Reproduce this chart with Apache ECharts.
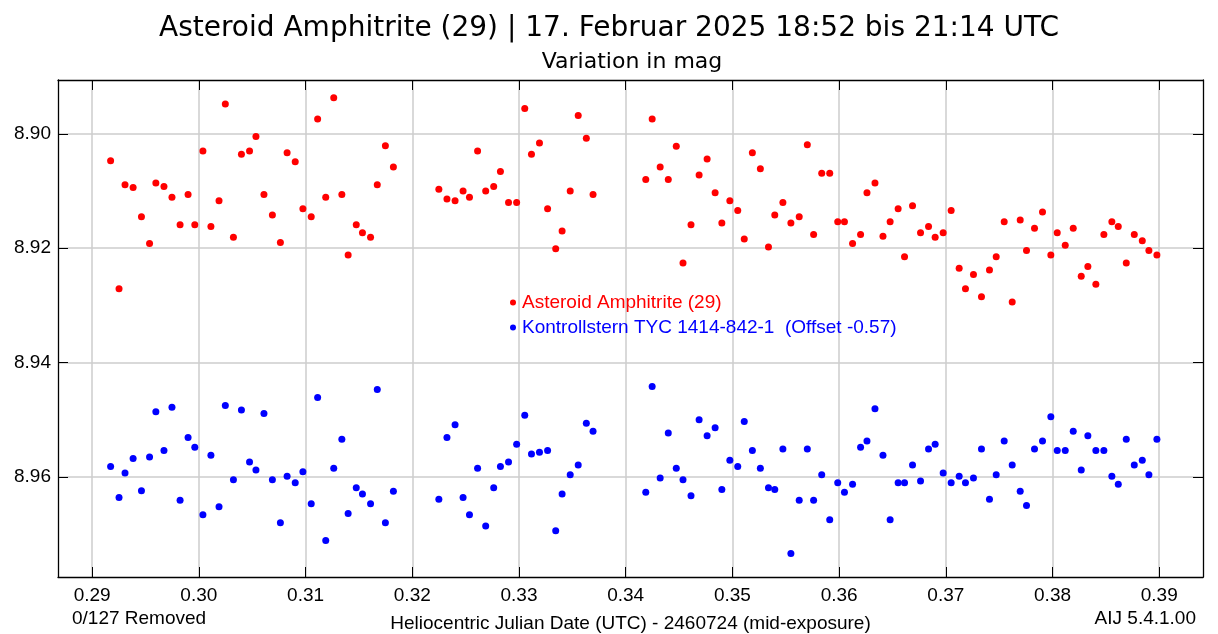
<!DOCTYPE html>
<html>
<head>
<meta charset="utf-8">
<script src="https://cdn.jsdelivr.net/npm/echarts@6/dist/echarts.min.js"></script>
<style>
html,body{margin:0;padding:0;background:#fff;}
#c{width:1218px;height:634px;}
</style>
</head>
<body>
<div id="c"></div>
<script>
// Heliocentric Julian Date (UTC) - 2460724
const hjd = [
 0.29173,0.29252,0.29308,0.29384,0.29462,0.29538,0.29597,0.29673,0.29748,0.29824,0.29899,0.29962,
 0.30038,0.30113,0.30189,0.30248,0.30324,0.30399,0.30475,0.30535,0.30610,0.30689,0.30764,0.30827,
 0.30903,0.30975,0.31053,0.31113,0.31189,0.31264,0.31340,0.31399,0.31475,
 0.31533,0.31609,0.31672,0.31748,0.31823,0.32249,0.32325,0.32401,0.32476,0.32536,0.32612,0.32688,
 0.32763,0.32826,0.32902,0.32978,0.33054,0.33117,0.33192,0.33268,0.33344,0.33404,0.33480,0.33555,
 0.33631,0.33694,
 0.34188,0.34248,0.34323,0.34399,0.34474,0.34537,0.34612,0.34688,0.34763,0.34838,0.34901,0.34976,
 0.35050,0.35111,0.35187,0.35262,0.35338,0.35397,0.35473,0.35548,0.35626,0.35702,0.35761,0.35837,
 0.35912,0.35987,0.36050,0.36126,0.36201,0.36261,0.36336,0.36411,
 0.36478,0.36553,0.36613,0.36688,0.36763,0.36838,0.36900,0.36975,0.37050,0.37125,0.37184,0.37259,
 0.37334,0.37409,0.37472,0.37547,0.37622,0.37697,0.37756,0.37831,0.37906,0.37984,0.38044,0.38119,
 0.38194,0.38269,0.38331,0.38406,0.38481,0.38556,0.38616,0.38691,0.38766,0.38841,0.38903,0.38978
];
// Asteroid Amphitrite (29), mag
const amphitrite = [
 8.9047,8.9271,8.9089,8.9094,8.9145,8.9192,8.9086,8.9092,8.9111,8.9159,8.9106,8.9159,
 8.9030,8.9162,8.9117,8.8948,8.9181,8.9036,8.9030,8.9005,8.9106,8.9142,8.9190,8.9033,
 8.9049,8.9131,8.9145,8.8974,8.9111,8.8937,8.9106,8.9212,8.9159,
 8.9173,8.9181,8.9089,8.9021,8.9058,8.9097,8.9114,8.9117,8.9100,8.9111,8.9030,8.9100,
 8.9092,8.9066,8.9120,8.9120,8.8956,8.9036,8.9016,8.9131,8.9201,8.9170,8.9100,8.8968,
 8.9008,8.9106,
 8.9080,8.8974,8.9058,8.9080,8.9022,8.9226,8.9159,8.9072,8.9044,8.9103,8.9156,8.9117,
 8.9134,8.9184,8.9033,8.9061,8.9198,8.9142,8.9120,8.9156,8.9145,8.9019,8.9176,8.9069,
 8.9069,8.9154,8.9154,8.9192,8.9176,8.9103,8.9086,8.9179,
 8.9154,8.9131,8.9215,8.9126,8.9173,8.9162,8.9181,8.9173,8.9134,8.9235,8.9271,8.9246,
 8.9285,8.9238,8.9215,8.9154,8.9294,8.9151,8.9204,8.9165,8.9137,8.9212,8.9173,8.9195,
 8.9165,8.9249,8.9232,8.9263,8.9176,8.9154,8.9162,8.9226,8.9176,8.9187,8.9204,8.9212
];
// Kontrollstern TYC 1414-842-1 (Offset -0.57), mag
const kontrollstern = [
 8.9582,8.9636,8.9593,8.9568,8.9624,8.9565,8.9486,8.9554,8.9478,8.9641,8.9531,8.9548,
 8.9666,8.9562,8.9652,8.9475,8.9605,8.9483,8.9574,8.9588,8.9489,8.9605,8.9680,8.9599,
 8.9610,8.9591,8.9647,8.9461,8.9711,8.9585,8.9534,8.9664,8.9619,
 8.9630,8.9647,8.9447,8.9680,8.9625,8.9639,8.9531,8.9509,8.9636,8.9666,8.9585,8.9686,
 8.9619,8.9582,8.9574,8.9543,8.9492,8.9560,8.9557,8.9554,8.9694,8.9630,8.9596,8.9579,
 8.9506,8.9520,
 8.9627,8.9442,8.9602,8.9523,8.9585,8.9605,8.9633,8.9500,8.9528,8.9514,8.9622,8.9571,
 8.9582,8.9503,8.9554,8.9585,8.9619,8.9622,8.9551,8.9734,8.9641,8.9551,8.9641,8.9596,
 8.9675,8.9610,8.9627,8.9613,8.9548,8.9537,8.9481,8.9562,
 8.9675,8.9610,8.9610,8.9579,8.9607,8.9551,8.9543,8.9593,8.9610,8.9599,8.9610,8.9602,
 8.9551,8.9639,8.9596,8.9537,8.9579,8.9625,8.9650,8.9551,8.9537,8.9495,8.9554,8.9554,
 8.9520,8.9588,8.9528,8.9554,8.9554,8.9599,8.9613,8.9534,8.9579,8.9571,8.9596,8.9534
];
const xTicks = [0.29,0.30,0.31,0.32,0.33,0.34,0.35,0.36,0.37,0.38,0.39];
const yTicks = [8.90,8.92,8.94,8.96];
const seriesNames = ['Asteroid Amphitrite (29)', 'Kontrollstern TYC 1414-842-1  (Offset -0.57)'];
const titleText = 'Asteroid Amphitrite (29) | 17. Februar 2025 18:52 bis 21:14 UTC';
const subtitleText = 'Variation in mag';
const xName = 'Heliocentric Julian Date (UTC) - 2460724 (mid-exposure)';
const removedText = '0/127 Removed';
const versionText = 'AIJ 5.4.1.00';

const X_MIN = 0.2868, X_MAX = 0.3941, Y_MIN = 8.8906, Y_MAX = 8.9775;
const LBL = {fontFamily: 'Liberation Sans, Arial, sans-serif', fontSize: 19, color: '#000'};
const lineStyle = {color: '#000', width: 1.3};
const gridLine = {show: true, lineStyle: {color: '#cccccc', width: 1.5}};

const chart = echarts.init(document.getElementById('c'), null, {renderer: 'canvas'});
const red = '#ff0000', blue = '#0000ff';

function mk(ys){ return hjd.map((x,i)=>[x, ys[i]]); }

chart.setOption({
  animation: false,
  backgroundColor: '#fff',
  grid: {left: 58, right: 15, top: 80, bottom: 57, containLabel: false, outerBoundsMode: 'none'},
  xAxis: [
    {type: 'value', position: 'bottom', min: X_MIN, max: X_MAX,
     axisLine: {show: true, onZero: false, lineStyle},
     axisTick: {show: true, inside: true, length: 10, customValues: xTicks, lineStyle: {color: '#000', width: 1}},
     axisLabel: {show: true, customValues: xTicks, formatter: v => v.toFixed(2), margin: 9, ...LBL},
     splitLine: gridLine,
     name: xName, nameLocation: 'middle', nameGap: 37, nameTextStyle: LBL},
    {type: 'value', position: 'top', min: X_MIN, max: X_MAX,
     axisLine: {show: true, onZero: false, lineStyle},
     axisTick: {show: true, inside: true, length: 10, customValues: xTicks, lineStyle: {color: '#000', width: 1}},
     axisLabel: {show: false}, splitLine: {show: false}}
  ],
  yAxis: [
    {type: 'value', position: 'left', inverse: true, min: Y_MIN, max: Y_MAX,
     axisLine: {show: true, onZero: false, lineStyle},
     axisTick: {show: true, inside: true, length: 10, customValues: yTicks, lineStyle: {color: '#000', width: 1}},
     axisLabel: {show: true, customValues: yTicks, formatter: v => v.toFixed(2), margin: 7, ...LBL},
     splitLine: gridLine},
    {type: 'value', position: 'right', inverse: true, min: Y_MIN, max: Y_MAX,
     axisLine: {show: true, onZero: false, lineStyle},
     axisTick: {show: true, inside: true, length: 10, customValues: yTicks, lineStyle: {color: '#000', width: 1}},
     axisLabel: {show: false}, splitLine: {show: false}}
  ],
  legend: {
    orient: 'vertical', left: 505, top: 288, itemGap: 6,
    icon: 'circle', itemWidth: 6, itemHeight: 6,
    textStyle: {fontFamily: LBL.fontFamily, fontSize: 19, padding: [0,0,0,1]},
    data: [
      {name: seriesNames[0], textStyle: {color: red}},
      {name: seriesNames[1], textStyle: {color: blue}}
    ]
  },
  series: [
    {name: seriesNames[0], type: 'scatter', symbol: 'circle', symbolSize: 7,
     itemStyle: {color: red, opacity: 1}, data: mk(amphitrite)},
    {name: seriesNames[1], type: 'scatter', symbol: 'circle', symbolSize: 7,
     itemStyle: {color: blue, opacity: 1}, data: mk(kontrollstern)}
  ],
  graphic: [
    {type: 'text', x: 609, y: 29, style: {text: titleText, fontFamily: 'DejaVu Sans, sans-serif', fontSize: 28, fill: '#000', textAlign: 'center', textVerticalAlign: 'middle'}},
    {type: 'text', x: 632, y: 62, style: {text: subtitleText, fontFamily: 'DejaVu Sans, sans-serif', fontSize: 22, fill: '#000', textAlign: 'center', textVerticalAlign: 'middle'}},
    {type: 'text', x: 72, y: 619, style: {text: removedText, fontFamily: LBL.fontFamily, fontSize: 19, fill: '#000', textAlign: 'left', textVerticalAlign: 'middle'}},
    {type: 'text', x: 1196, y: 619, style: {text: versionText, fontFamily: LBL.fontFamily, fontSize: 19, fill: '#000', textAlign: 'right', textVerticalAlign: 'middle'}}
  ]
});
</script>
</body>
</html>
